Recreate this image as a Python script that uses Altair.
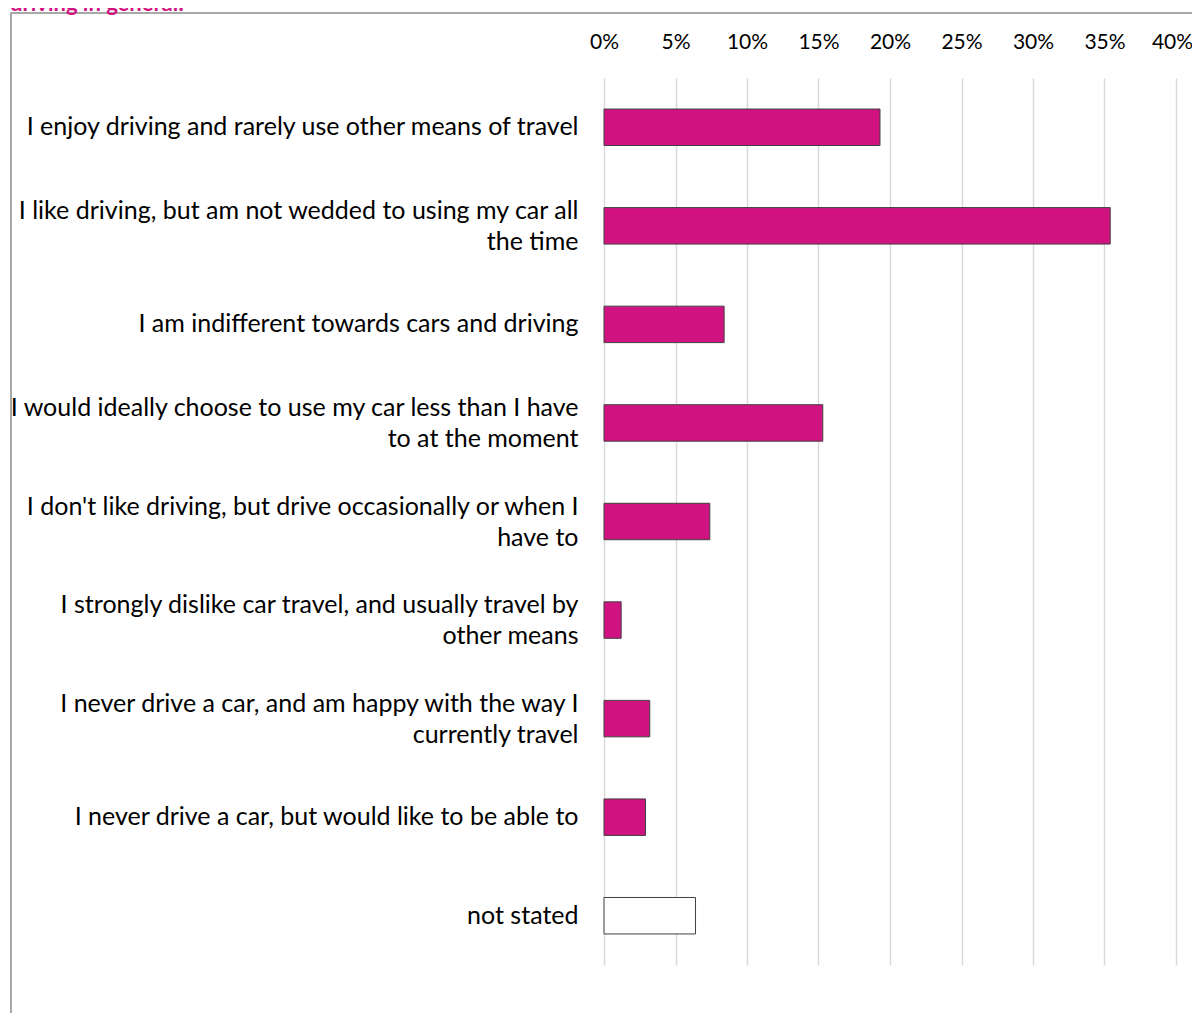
import altair as alt
import pandas as pd

categories = [
    "I enjoy driving and rarely use other means of travel",
    "I like driving, but am not wedded to using my car all\nthe time",
    "I am indifferent towards cars and driving",
    "I would ideally choose to use my car less than I have\nto at the moment",
    "I don't like driving, but drive occasionally or when I\nhave to",
    "I strongly dislike car travel, and usually travel by\nother means",
    "I never drive a car, and am happy with the way I\ncurrently travel",
    "I never drive a car, but would like to be able to",
    "not stated",
]
values = [0.193, 0.354, 0.084, 0.153, 0.074, 0.012, 0.032, 0.029, 0.064]
tick_values = [0, 0.05, 0.10, 0.15, 0.20, 0.25, 0.30, 0.35, 0.40]
title_text = "driving in general:"

df = pd.DataFrame({"category": categories, "value": values})

FONT = "Lato"
PINK = "#D01380"

x = alt.X(
    "value:Q",
    scale=alt.Scale(domain=[0, 0.4], nice=False, zero=True),
    axis=alt.Axis(
        orient="top", values=tick_values, format=".0%", title=None,
        domain=False, ticks=False, grid=True, gridColor="#D9D9D9",
        gridWidth=1.5, labelFont=FONT, labelFontSize=21, labelColor="#000000",
        labelPadding=26, labelFlush=False,
        labelOffset={"condition": {"test": "datum.value >= 0.4", "value": -4},
                     "value": 0},
    ),
)
y = alt.Y(
    "category:N", sort=categories,
    scale=alt.Scale(paddingInner=0.63, paddingOuter=0.315),
    axis=alt.Axis(
        title=None, domain=False, ticks=False, labelFont=FONT,
        labelFontSize=25, labelColor="#000000", labelLimit=0,
        labelPadding=26, labelAlign="right", labelLineHeight=31,
        labelExpr="split(datum.value, '\\n')",
        labelOffset={"condition": {"test": "indexof(datum.value, '\\n') >= 0",
                                   "value": -15},
                     "value": 0},
    ),
)

bars = alt.Chart(df).mark_bar(stroke="#404040", strokeWidth=1).encode(
    x=x,
    y=y,
    fill=alt.condition(alt.datum.category == "not stated",
                       alt.value("#FFFFFF"), alt.value(PINK)),
)

frame = alt.Chart(pd.DataFrame({"k": [0]})).mark_rect(
    filled=False, stroke="#8C8C8C", strokeWidth=1.5
).encode(
    x=alt.value(-593), x2=alt.value(700),
    y=alt.value(-65), y2=alt.value(1000),
)

title = alt.Chart(pd.DataFrame({"t": [title_text]})).mark_text(
    align="left", baseline="alphabetic", font=FONT, fontSize=22,
    fontWeight="bold", color=PINK,
).encode(text="t:N", x=alt.value(-594), y=alt.value(-67))

chart = alt.layer(frame, bars, title).properties(
    width=572, height=887,
    autosize=alt.AutoSizeParams(type="none"),
    padding={"left": 596, "top": 70, "right": 16, "bottom": 48},
).configure_view(stroke=None)

chart.save("out.html", embed_options={"renderer": "svg", "actions": False})
